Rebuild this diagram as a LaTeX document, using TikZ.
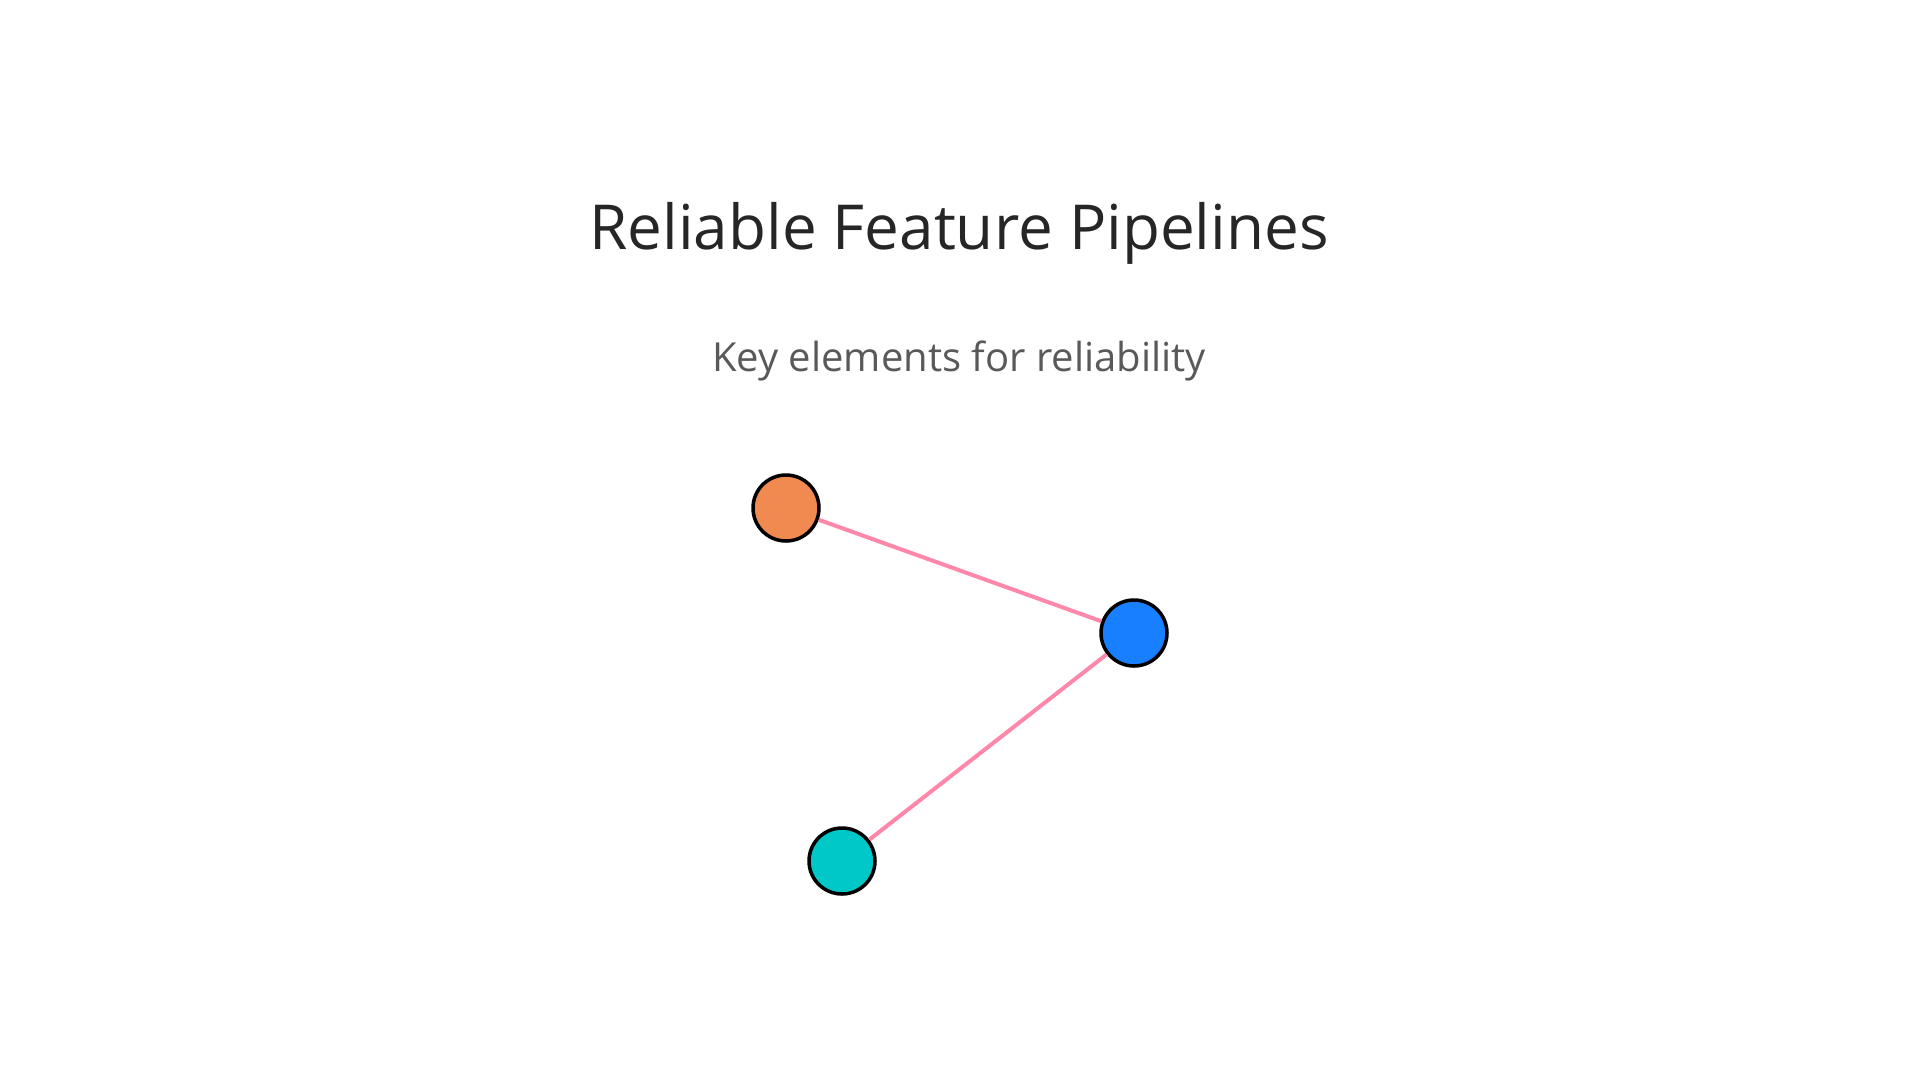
\documentclass[tikz,border=0pt]{standalone}
\usepackage{fontspec}
\setmainfont{Open Sans}
\begin{document}
\begin{tikzpicture}[x=1pt,y=-1pt,
  dot/.style={circle,draw=black,line width=3.5pt,minimum size=66pt,inner sep=0pt},
  link/.style={draw={rgb,255:red,255;green,136;blue,170},line width=4pt}]
\useasboundingbox (0,0) rectangle (1920,1080);
\node (title) at (959,233) {\fontsize{62}{70}\selectfont\color[HTML]{262626}Reliable Feature Pipelines};
\node (sub) at (959,361) {\fontsize{40}{48}\selectfont\color[HTML]{595959}Key elements for reliability};
\node[dot,fill={rgb,255:red,240;green,138;blue,80}] (a) at (786,508) {};
\node[dot,fill={rgb,255:red,24;green,128;blue,255}] (b) at (1134,633) {};
\node[dot,fill={rgb,255:red,0;green,200;blue,200}] (c) at (842,861) {};
\begin{scope}[on background layer/.style={}]
\end{scope}
\draw[link] (a) -- (b);
\draw[link] (b) -- (c);
\end{tikzpicture}
\end{document}
